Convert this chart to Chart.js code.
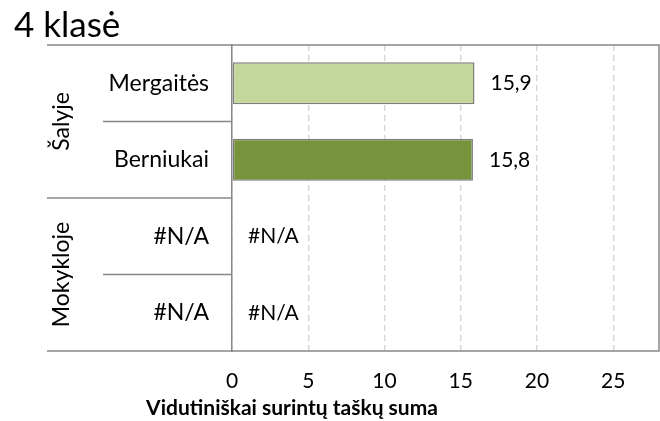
<!DOCTYPE html>
<html lang="lt">
<head>
  <meta charset="UTF-8" />
  <title>4 klasė</title>
  <script src="https://cdn.jsdelivr.net/npm/chart.js"></script>
  <style>
    html, body { margin: 0; padding: 0; background: #fff; }
    #wrap { width: 660px; height: 421px; }
  </style>
</head>
<body>
  <div id="wrap"><canvas id="chart"></canvas></div>

  <script>
    const categories = ['Mergaitės', 'Berniukai', '#N/A', '#N/A'];
    const groupLabels = ['Šalyje', 'Mokykloje'];
    const groupSizes = [2, 2];
    const values = [15.9, 15.8, null, null];
    const barColors = ['#c4d79b', '#77933c', '#c4d79b', '#77933c'];
    const xTicks = [0, 5, 10, 15, 20, 25];
    const xTitle = 'Vidutiniškai surintų taškų suma';

    const FONT = 'Lato';
    const lineColor = '#888888';

    // category groups, separators, frame, value labels and axis title
    const extras = {
      id: 'extras',
      afterDraw(chart) {
        const ctx = chart.ctx;
        const area = chart.chartArea;
        const y = chart.scales.y;
        const x = chart.scales.x;
        const step = (area.bottom - area.top) / categories.length;

        ctx.save();
        ctx.strokeStyle = lineColor;
        ctx.lineWidth = 1.5;

        // frame
        ctx.beginPath();
        ctx.moveTo(47, area.top); ctx.lineTo(area.right, area.top);
        ctx.lineTo(area.right, area.bottom); ctx.lineTo(47, area.bottom);
        ctx.stroke();

        // separators between categories
        let idx = 0;
        groupSizes.forEach((size, g) => {
          for (let i = 1; i < size; i++) {
            const yy = area.top + (idx + i) * step;
            ctx.beginPath(); ctx.moveTo(103, yy); ctx.lineTo(area.left, yy); ctx.stroke();
          }
          idx += size;
          if (g < groupSizes.length - 1) {
            const yy = area.top + idx * step;
            ctx.beginPath(); ctx.moveTo(47, yy); ctx.lineTo(area.left, yy); ctx.stroke();
          }
        });

        // group labels
        ctx.fillStyle = '#000';
        ctx.font = '23px ' + FONT;
        ctx.textAlign = 'center';
        ctx.textBaseline = 'middle';
        idx = 0;
        groupSizes.forEach((size, g) => {
          const cy = area.top + (idx + size / 2) * step;
          ctx.save();
          ctx.translate(62, cy);
          ctx.rotate(-Math.PI / 2);
          ctx.fillText(groupLabels[g], 0, 0);
          ctx.restore();
          idx += size;
        });

        // value labels
        ctx.font = '21px ' + FONT;
        ctx.textAlign = 'left';
        values.forEach((v, i) => {
          const cy = y.getPixelForValue(i);
          const text = v == null ? '#N/A' : v.toFixed(1).replace('.', ',');
          const px = x.getPixelForValue(v == null ? 0 : v) + 16;
          ctx.fillText(text, px, cy);
        });

        // axis title
        ctx.font = 'bold 21px ' + FONT;
        ctx.textAlign = 'center';
        ctx.fillText(xTitle, 292, 408);
        ctx.restore();
      }
    };

    new Chart(document.getElementById('chart'), {
      type: 'bar',
      data: {
        labels: categories,
        datasets: [{
          data: values,
          backgroundColor: barColors,
          borderColor: '#7f7f7f',
          borderWidth: 1.5,
          borderSkipped: false,
          categoryPercentage: 1,
          barPercentage: 0.55
        }]
      },
      options: {
        indexAxis: 'y',
        responsive: true,
        maintainAspectRatio: false,
        animation: false,
        layout: { padding: { left: 14, right: 1, top: 0, bottom: 0 } },
        plugins: {
          legend: { display: false },
          tooltip: { enabled: false },
          title: {
            display: true,
            text: '4 klasė',
            align: 'start',
            color: '#000',
            font: { family: FONT, size: 35, weight: 'normal', lineHeight: 1 },
            padding: { top: 8.5, bottom: 1.5 }
          }
        },
        scales: {
          x: {
            min: 0,
            max: 28,
            afterBuildTicks: axis => { axis.ticks = xTicks.map(v => ({ value: v })); },
            afterFit: axis => { axis.height = 70; },
            grid: { color: '#d9d9d9', lineWidth: 1.5, drawTicks: false },
            border: { display: false, dash: [6, 4] },
            ticks: { color: '#000', padding: 18, font: { family: FONT, size: 21 } }
          },
          y: {
            afterFit: axis => { axis.width = 218; },
            grid: { display: false, drawTicks: false },
            border: { display: true, color: lineColor, width: 1.5 },
            ticks: { color: '#000', padding: 23, font: { family: FONT, size: 23 } }
          }
        }
      },
      plugins: [extras]
    });
  </script>
</body>
</html>
